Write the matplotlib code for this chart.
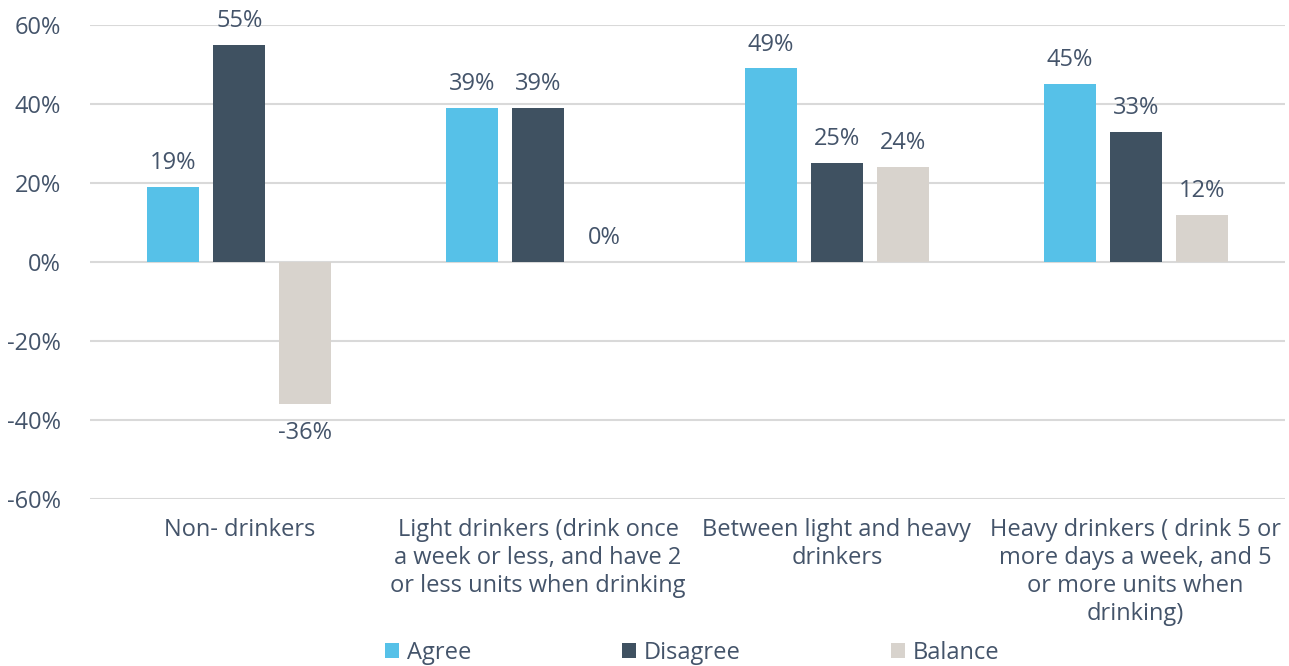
import matplotlib
matplotlib.use("Agg")
import matplotlib.pyplot as plt
import numpy as np
from matplotlib.ticker import FuncFormatter

categories = [
    "Non- drinkers",
    "Light drinkers (drink once\na week or less, and have 2\nor less units when drinking",
    "Between light and heavy\ndrinkers",
    "Heavy drinkers ( drink 5 or\nmore days a week, and 5\nor more units when\ndrinking)",
]
series_names = ["Agree", "Disagree", "Balance"]
agree = [19, 39, 49, 45]
disagree = [55, 39, 25, 33]
balance = [-36, 0, 24, 12]
yticks = [-60, -40, -20, 0, 20, 40, 60]

colors = ["#56C1E8", "#3F5161", "#D8D3CD"]
text_color = "#44546A"
grid_color = "#D9D9D9"

plt.rcParams["font.family"] = ["Open Sans", "DejaVu Sans"]
FS = 17

fig = plt.figure(figsize=(12.89, 6.66), dpi=100)
ax = fig.add_axes([90 / 1289, 1 - 499 / 666, (1285 - 90) / 1289, (499 - 25) / 666])

x = np.arange(len(categories))
width = 0.174
step = 0.221
for i, (name, vals, col) in enumerate(zip(series_names, [agree, disagree, balance], colors)):
    pos = x + (i - 1) * step
    ax.bar(pos, vals, width=width, color=col, label=name, zorder=3)
    for p, v in zip(pos, vals):
        if v >= 0:
            ax.text(p, v + 3.0, f"{v}%", ha="center", va="bottom",
                    fontsize=FS, color=text_color)
        else:
            ax.text(p, v - 4.2, f"{v}%", ha="center", va="top",
                    fontsize=FS, color=text_color)

ax.set_xlim(-0.5, len(categories) - 0.5)
ax.set_ylim(-60, 60)
ax.set_yticks(yticks)
ax.yaxis.set_major_formatter(FuncFormatter(lambda v, _: f"{int(v)}%"))
ax.grid(axis="y", color=grid_color, linewidth=1.5, zorder=0)
ax.set_axisbelow(True)
for s in ax.spines.values():
    s.set_visible(False)
ax.tick_params(axis="both", length=0, labelsize=FS, colors=text_color)
ax.tick_params(axis="y", pad=21)
ax.tick_params(axis="x", pad=14)
ax.set_xticks(x)
ax.set_xticklabels(categories, linespacing=1.22)

handles, labels = ax.get_legend_handles_labels()
fig.legend(handles, labels, loc="center", bbox_to_anchor=(0.537, 1 - 653 / 666),
           ncol=3, frameon=False, fontsize=FS, labelcolor=text_color,
           handlelength=0.6, handleheight=0.6, handletextpad=0.3,
           columnspacing=6.4)

fig.savefig("out.png", dpi=100)
